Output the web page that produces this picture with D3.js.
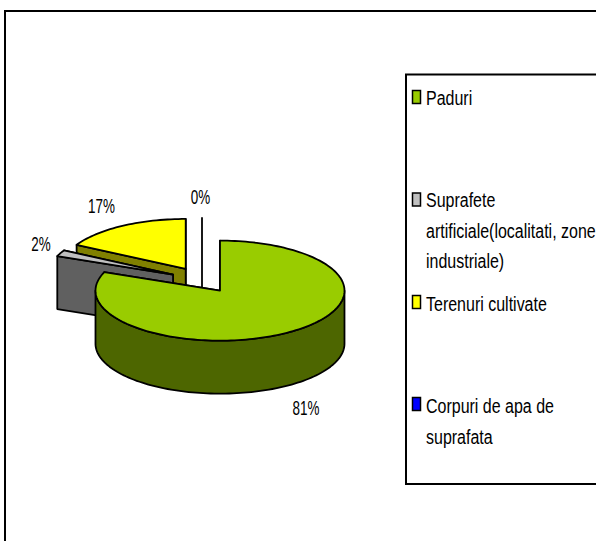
<!DOCTYPE html>
<html><head><meta charset="utf-8">
<style>html,body{margin:0;padding:0;background:#fff}svg{display:block}text{font-family:"Liberation Sans",Arial,sans-serif;fill:#000}</style>
<script src="https://cdn.jsdelivr.net/npm/d3@7/dist/d3.min.js"></script>
</head><body><svg id="c" width="596" height="541"></svg>
<script>
const categories = ["Paduri", "Suprafete artificiale", "Terenuri cultivate", "Corpuri de apa de suprafata"];
const values = [81, 2, 17, 0];
const topColors = ["#99cc00", "#c0c0c0", "#ffff00", "#0000ff"];
const sideColors = ["#4d6600", "#606060", "#808000", "#000080"];
const legendLines = [["Paduri"], ["Suprafete", "artificiale(localitati, zone", "industriale)"], ["Terenuri cultivate"], ["Corpuri de apa de", "suprafata"]];
const valueLabels = ["81%", "2%", "17%", "0%"];

const svg = d3.select("#c");
svg.append("rect").attr("x", 5).attr("y", 11).attr("width", 640).attr("height", 560).attr("fill", "#fff").attr("stroke", "#000").attr("stroke-width", 2);

const cx = 202, cy = 280, rx = 124.5, ry = 50, depth = 53, explode = 32, strokeW = 1.8;
const arcs = d3.pie().sort(null).value(d => d)(values);
const line = d3.line();

function centre(a) {
  const m = (a.startAngle + a.endAngle) / 2;
  return [cx + explode * Math.sin(m), cy - explode * Math.cos(m) * ry / rx];
}
const pt = (c, t, dz = 0) => [c[0] + rx * Math.sin(t), c[1] - ry * Math.cos(t) + dz];
function rim(c, a0, a1, dz = 0) {
  const n = Math.max(2, Math.ceil(Math.abs(a1 - a0) / 0.03));
  return d3.range(n + 1).map(i => pt(c, a0 + (a1 - a0) * i / n, dz));
}
function poly(points, fill) {
  svg.append("path").attr("d", line(points) + "Z").attr("fill", fill).attr("stroke", "#000").attr("stroke-width", strokeW).attr("stroke-linejoin", "round");
}

// back to front: 0% sliver, yellow, gray, green
function slice(i) {
  const a = arcs[i], c = centre(a), s = a.startAngle, e = a.endAngle;
  const low = [c[0], c[1] + depth];
  if (e <= s) {
    svg.append("path").attr("d", line([pt(c, s), low])).attr("stroke", "#000").attr("stroke-width", strokeW);
    return;
  }
  poly([c, pt(c, e), pt(c, e, depth), low], sideColors[i]);
  poly([c, pt(c, s), pt(c, s, depth), low], sideColors[i]);
  const a0 = Math.max(s, Math.PI / 2), a1 = Math.min(e, 3 * Math.PI / 2);
  if (a1 > a0) poly(rim(c, a0, a1).concat(rim(c, a1, a0, depth)), sideColors[i]);
  poly([c].concat(rim(c, s, e)), topColors[i]);
}
[3, 2, 1, 0].forEach(slice);

// value labels
const labelPos = [[306, 415], [41, 251], [101.5, 213], [200.5, 204]];
valueLabels.forEach((t, i) => {
  svg.append("text").attr("transform", `translate(${labelPos[i][0]},${labelPos[i][1]}) scale(0.69,1)`).attr("text-anchor", "middle").attr("font-size", 19.5).text(t);
});

// legend
const legendY = [97, 199.5, 302, 404];
const legendBase = [105, 207, 311, 413];
svg.append("rect").attr("x", 406).attr("y", 74.5).attr("width", 240).attr("height", 409.5).attr("fill", "#fff").attr("stroke", "#000").attr("stroke-width", 2);
legendLines.forEach((lines, i) => {
  svg.append("rect").attr("x", 412.5).attr("y", legendY[i] - 6.5).attr("width", 8).attr("height", 13).attr("fill", topColors[i]).attr("stroke", "#000").attr("stroke-width", 1.5);
  lines.forEach((t, j) => {
    svg.append("text").attr("transform", `translate(426,${legendBase[i] + j * 30.5}) scale(0.82,1)`).attr("font-size", 19.5).text(t);
  });
});
</script></body></html>
